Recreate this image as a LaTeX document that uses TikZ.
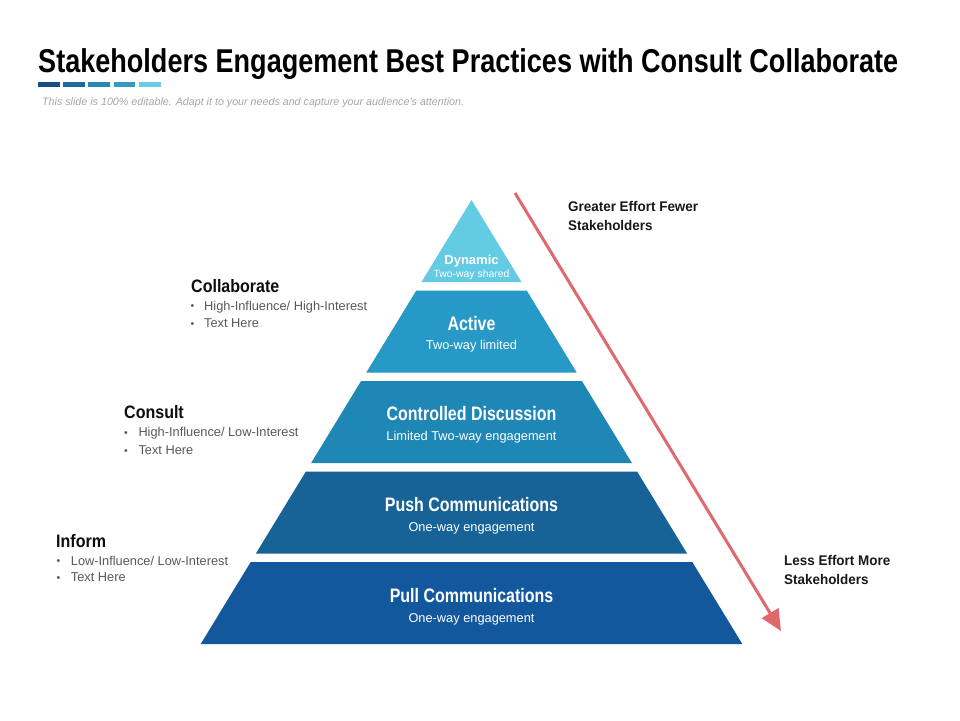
\documentclass[tikz,border=0pt]{standalone}
\usepackage{fontspec}
\setmainfont{Liberation Sans}
\newfontfamily\condfont[FakeStretch=0.82]{Liberation Sans}
\newfontfamily\labfont[FakeStretch=0.89]{Liberation Sans}
\newfontfamily\rtfont[FakeStretch=0.96]{Liberation Sans}
\usetikzlibrary{arrows.meta}
\definecolor{cDyn}{HTML}{64CBE4}
\definecolor{cAct}{HTML}{2699C6}
\definecolor{cCon}{HTML}{1F87B6}
\definecolor{cPush}{HTML}{176296}
\definecolor{cPull}{HTML}{13579C}
\definecolor{barA}{HTML}{174F82}
\definecolor{barB}{HTML}{1F6A9C}
\definecolor{barC}{HTML}{2887B3}
\definecolor{barD}{HTML}{3399BD}
\definecolor{barE}{HTML}{6CCDE2}
\definecolor{arrowred}{HTML}{E0696E}
\definecolor{bodygrey}{HTML}{595959}
\definecolor{subgrey}{HTML}{A6A6A6}
\tikzset{
  titletext/.style={anchor=base west, inner sep=0pt, text=black, font=\condfont\bfseries\fontsize{33}{36}\selectfont},
  subtitle/.style={anchor=base west, inner sep=0pt, text=subgrey, font=\itshape\fontsize{10.7}{12}\selectfont},
  bandhead/.style={anchor=base, inner sep=0pt, text=white, font=\condfont\bfseries\fontsize{19.5}{22}\selectfont},
  bandsub/.style={anchor=base, inner sep=0pt, text=white, font=\fontsize{12.8}{15}\selectfont},
  dynhead/.style={anchor=base, inner sep=0pt, text=white, font=\bfseries\fontsize{13}{15}\selectfont},
  dynsub/.style={anchor=base, inner sep=0pt, text=white, font=\fontsize{10.4}{12}\selectfont},
  grouphead/.style={anchor=base west, inner sep=0pt, text=black!95, font=\labfont\bfseries\fontsize{18}{20}\selectfont},
  bullettext/.style={anchor=base west, inner sep=0pt, text=bodygrey, font=\fontsize{12.8}{15}\selectfont},
  bulletdot/.style={anchor=base west, inner sep=0pt, text=bodygrey, font=\fontsize{10.5}{12}\selectfont},
  sidetext/.style={anchor=base west, inner sep=0pt, text=black!90, font=\rtfont\bfseries\fontsize{14}{17}\selectfont},
  flowarrow/.style={draw=arrowred, line width=3pt, -{Triangle[length=21pt,width=19pt]}},
}
\begin{document}
\begin{tikzpicture}[x=1pt,y=-1pt]
\useasboundingbox[fill=white] (0,0) rectangle (960,720);

% title
\node[titletext] (title) at (38,72) {Stakeholders Engagement Best Practices with Consult Collaborate};
\fill[barA] (38,81.7) rectangle (60,86.7);
\fill[barB] (63.3,81.7) rectangle (85,86.7);
\fill[barC] (88.3,81.7) rectangle (110,86.7);
\fill[barD] (114.3,81.7) rectangle (135,86.7);
\fill[barE] (139.3,81.7) rectangle (160.5,86.7);
\node[subtitle] (sub) at (42,105) {This slide is 100\% editable. Adapt it to your needs and capture your audience's attention.};

% pyramid bands
\fill[cDyn] (471.5,200) -- (521.5,282) -- (421.5,282) -- cycle;
\fill[cAct] (416.3,290.5) -- (526.7,290.5) -- (576.7,372.5) -- (366.3,372.5) -- cycle;
\fill[cCon] (361.1,381) -- (581.9,381) -- (631.9,463) -- (311.1,463) -- cycle;
\fill[cPush] (305.9,471.5) -- (637.1,471.5) -- (687.1,553.5) -- (255.9,553.5) -- cycle;
\fill[cPull] (250.7,562) -- (692.3,562) -- (742.3,644) -- (200.7,644) -- cycle;

% band texts
\node[dynhead] (dynH) at (471.5,264.5) {Dynamic};
\node[dynsub] (dynS) at (471.5,277) {Two-way shared};
\node[bandhead] (actH) at (471.5,330) {Active};
\node[bandsub] (actS) at (471.5,349.5) {Two-way limited};
\node[bandhead] (conH) at (471.5,420) {Controlled Discussion};
\node[bandsub] (conS) at (471.5,440) {Limited Two-way engagement};
\node[bandhead] (pushH) at (471.5,511) {Push Communications};
\node[bandsub] (pushS) at (471.5,531) {One-way engagement};
\node[bandhead] (pullH) at (471.5,602) {Pull Communications};
\node[bandsub] (pullS) at (471.5,622) {One-way engagement};

% left groups
\node[grouphead] (colH) at (191,292) {Collaborate};
\node[bulletdot] (colD1) at (190.5,309.5) {•};
\node[bullettext] (colB1) at (204,310) {High-Influence/ High-Interest};
\node[bulletdot] (colD2) at (190.5,327) {•};
\node[bullettext] (colB2) at (204,327.3) {Text Here};

\node[grouphead] (conLH) at (124,418.3) {Consult};
\node[bulletdot] (conD1) at (124,436.2) {•};
\node[bullettext] (conB1) at (138.3,436.7) {High-Influence/ Low-Interest};
\node[bulletdot] (conD2) at (124,454) {•};
\node[bullettext] (conB2) at (138.3,454.3) {Text Here};

\node[grouphead] (infH) at (56,547.3) {Inform};
\node[bulletdot] (infD1) at (56.5,564.5) {•};
\node[bullettext] (infB1) at (70.7,565) {Low-Influence/ Low-Interest};
\node[bulletdot] (infD2) at (56.5,581.2) {•};
\node[bullettext] (infB2) at (70.7,581.7) {Text Here};

% right side
\node[sidetext] (gr1) at (568,211.5) {Greater Effort Fewer};
\node[sidetext] (gr2) at (568,230) {Stakeholders};
\node[sidetext] (le1) at (784,565) {Less Effort More};
\node[sidetext] (le2) at (784,584) {Stakeholders};

% arrow
\coordinate (arrStart) at (515,193);
\coordinate (arrEnd) at (781,631);
\draw[flowarrow] (arrStart) -- (arrEnd);
\end{tikzpicture}
\end{document}
